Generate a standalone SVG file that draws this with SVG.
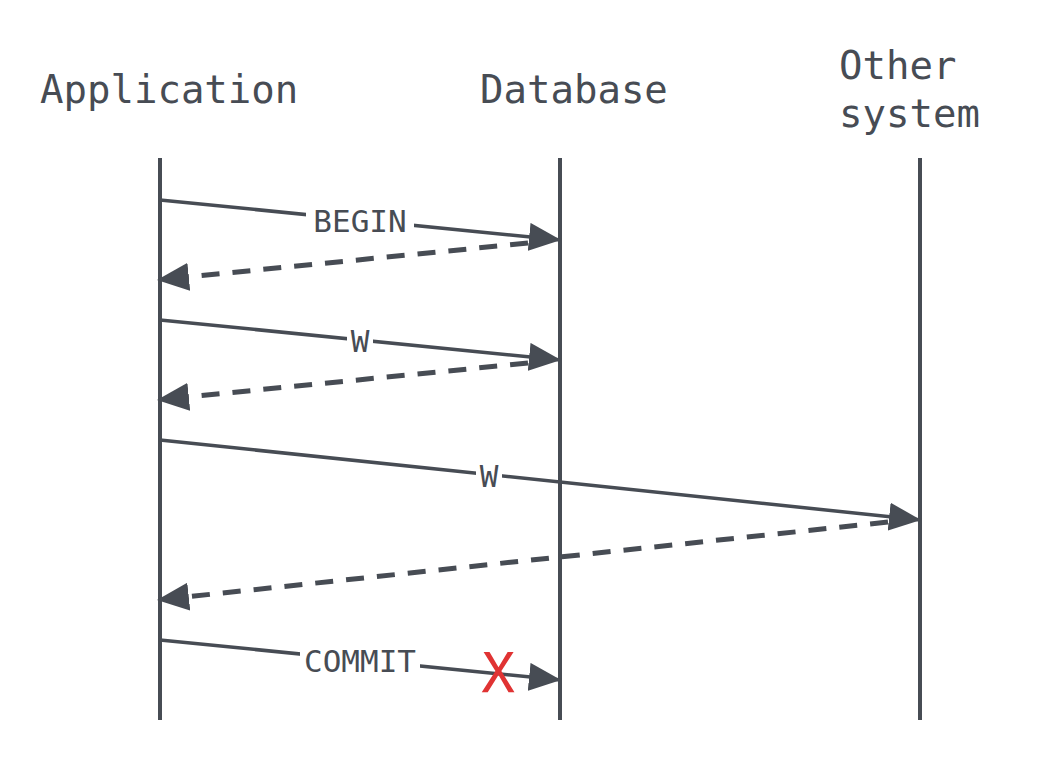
<svg xmlns="http://www.w3.org/2000/svg" width="1040" height="760" viewBox="0 0 1040 760">
<style>
.t{font-family:"DejaVu Sans Mono",monospace;fill:#474c54}
.h{font-size:39px}
.l{font-size:31px;text-anchor:middle}
.life{stroke:#474c54;stroke-width:4;fill:none}
.m{stroke:#474c54;stroke-width:3.5;fill:none;marker-end:url(#ah)}
.d{stroke:#474c54;stroke-width:5;fill:none;stroke-dasharray:18 13;marker-end:url(#ahd)}
.bg{fill:#ffffff}
</style>
<defs>
<marker id="ah" viewBox="0 0 10 10" refX="10" refY="5" markerWidth="32" markerHeight="28" markerUnits="userSpaceOnUse" orient="auto" preserveAspectRatio="none">
<path d="M0,0 L10,5 L0,10 Z" fill="#474c54"/>
</marker>
<marker id="ahd" viewBox="0 0 10 10" refX="7" refY="5" markerWidth="32" markerHeight="28" markerUnits="userSpaceOnUse" orient="auto" preserveAspectRatio="none">
<path d="M0,0 L10,5 L0,10 Z" fill="#474c54"/>
</marker>
</defs>
<rect width="1040" height="760" fill="#ffffff"/>
<g id="app">
<text class="t h" x="40" y="103">Application</text>
<line class="life" x1="160" y1="158" x2="160" y2="720"/>
</g>
<g id="db">
<text class="t h" x="480" y="103">Database</text>
<line class="life" x1="560" y1="158" x2="560" y2="720"/>
</g>
<g id="other">
<text class="t h" x="839" y="79">Other</text>
<text class="t h" x="839" y="127">system</text>
<line class="life" x1="920" y1="158" x2="920" y2="720"/>
</g>
<g id="connectors">
<line class="m" x1="160" y1="200" x2="561" y2="240"/>
<line class="d" x1="528" y1="243" x2="166.5" y2="279"/>
<line class="m" x1="160" y1="320" x2="561" y2="360"/>
<line class="d" x1="528" y1="363" x2="166.5" y2="399"/>
<line class="m" x1="160" y1="440" x2="921" y2="520"/>
<line class="d" x1="888" y1="522" x2="166.5" y2="599"/>
<line class="m" x1="160" y1="640" x2="561" y2="680"/>
<rect class="bg" x="306" y="203" width="108" height="32"/>
<text class="t l" x="360" y="232">BEGIN</text>
<rect class="bg" x="347" y="325" width="26" height="32"/>
<text class="t l" x="360" y="352">W</text>
<rect class="bg" x="476" y="460" width="26" height="32"/>
<text class="t l" x="489" y="487">W</text>
<rect class="bg" x="300" y="643" width="120" height="32"/>
<text class="t l" x="360" y="672">COMMIT</text>
<text x="498" y="692" font-family="DejaVu Sans Mono,monospace" font-size="56" fill="#e03333" text-anchor="middle">X</text>
</g>
</svg>
